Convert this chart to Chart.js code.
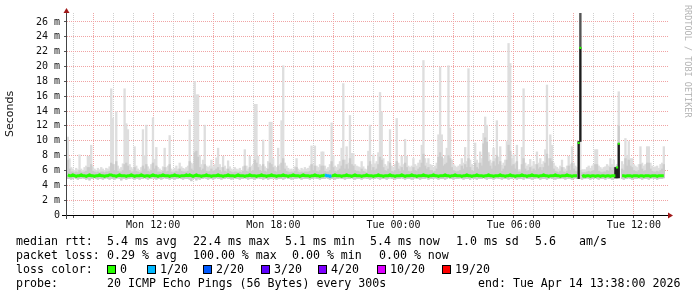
<!DOCTYPE html>
<html>
<head>
<meta charset="utf-8">
<script src="https://cdn.jsdelivr.net/npm/chart.js@4.4.1/dist/chart.umd.min.js"></script>
<style>
html, body { margin: 0; padding: 0; background: #fff; }
#wrap { position: relative; width: 697px; height: 297px; overflow: hidden; }
#chart { position: absolute; left: 0; top: 0; }
.t { position: absolute; font: 11.6px "DejaVu Sans Mono", monospace; line-height: 14px; white-space: pre; color: #000; }
.box { position: absolute; width: 9px; height: 9px; box-sizing: border-box; border: 1px solid #000; }
#brand { position: absolute; left: 693px; top: 5px; transform-origin: 0 0; transform: rotate(90deg);
  font: 8.5px "DejaVu Sans Mono", monospace; line-height: 10px; color: #b4b4b4; white-space: pre; }
</style>
</head>
<body>
<div id="wrap">
  <canvas id="chart" width="697" height="297"></canvas>
  <div id="brand">RRDTOOL / TOBI OETIKER</div>
  <div id="legend"></div>
</div>
<script>
// time axis: 5 minute steps starting Mon 07:42 (hours since Mon 00:00)
const startHour = 7.7;
const stepHours = 5 / 60;
const xMin = 7.7, xMax = 37.7;
const xTickHours = [12, 18, 24, 30, 36];
const xTickLabels = ['Mon 12:00', 'Mon 18:00', 'Tue 00:00', 'Tue 06:00', 'Tue 12:00'];
const yTickValues = [0, 2, 4, 6, 8, 10, 12, 14, 16, 18, 20, 22, 24, 26];
const yTickLabels = ['0', '2 m', '4 m', '6 m', '8 m', '10 m', '12 m', '14 m', '16 m', '18 m', '20 m', '22 m', '24 m', '26 m'];

// median rtt (ms) per step
const medianRtt = [
  5.4,5.3,5.3,5.4,5.3,5.2,5.3,5.3,5.4,5.3,5.3,5.2,5.3,5.4,5.3,5.3,5.2,5.3,5.3,5.4,5.3,5.3,5.2,5.3,
  5.3,5.4,5.4,5.3,5.3,5.2,5.3,5.4,5.3,5.3,5.3,5.2,5.3,5.3,5.4,5.3,5.2,5.3,5.3,5.3,5.4,5.3,5.2,5.3,
  5.3,5.2,5.3,5.4,5.3,5.3,5.2,5.3,5.3,5.4,5.3,5.3,5.3,5.2,5.3,5.3,5.4,5.3,5.3,5.2,5.3,5.3,5.3,5.4,
  5.3,5.4,5.3,5.2,5.3,5.4,5.3,5.3,5.2,5.3,5.3,5.4,5.3,5.3,5.2,5.3,5.3,5.3,5.4,5.3,5.3,5.2,5.3,5.3,
  5.4,5.3,5.3,5.3,5.2,5.3,5.4,5.3,5.3,5.3,5.2,5.3,5.3,5.4,5.3,5.3,5.3,5.2,5.3,5.3,5.4,5.3,5.3,5.2,
  5.3,5.3,5.4,5.3,5.3,5.2,5.3,5.3,5.3,5.4,5.3,5.3,5.2,5.3,5.3,5.4,5.3,5.3,5.3,5.2,5.3,5.4,5.3,5.3,
  5.3,5.2,5.3,5.3,5.4,5.3,5.3,5.2,5.3,5.3,5.4,5.3,5.3,5.2,5.3,5.3,5.4,5.3,5.3,5.3,5.2,5.3,5.3,5.4,
  5.3,5.3,5.2,5.3,5.4,5.3,5.3,5.3,5.2,5.3,5.3,5.4,5.3,5.3,5.3,5.2,5.3,5.3,5.4,5.3,5.3,5.2,5.3,5.3,
  5.3,5.4,5.3,5.3,5.2,5.3,5.3,5.3,5.4,5.3,5.2,5.3,5.3,5.3,5.4,5.3,5.3,5.2,5.3,5.3,5.3,5.4,5.3,5.3,
  5.2,5.3,5.3,5.4,5.3,5.3,5.2,5.3,5.3,5.3,5.4,5.3,5.3,5.2,5.3,5.3,5.4,5.3,5.3,5.3,5.2,5.3,5.3,5.4,
  5.3,5.3,5.2,5.3,5.3,5.4,5.3,5.3,5.3,5.2,5.3,5.3,5.4,5.3,5.3,5.2,5.3,5.3,5.3,5.4,5.3,5.3,5.2,5.3,
  5.3,5.4,5.3,5.3,5.2,5.3,5.3,5.3,5.4,5.3,5.3,5.2,5.3,5.3,5.4,5.3,5.3,5.3,5.2,5.3,5.3,5.4,5.3,5.3,
  5.2,5.3,5.3,5.3,5.4,5.3,5.3,5.2,5.3,5.3,5.3,5.4,5.3,5.3,5.2,5.3,5.3,5.3,9.7,22.5,5.2,5.3,5.2,5.3,
  5.3,5.2,5.3,5.3,5.2,5.3,5.3,5.2,5.3,5.3,5.2,5.3,5.3,5.2,5.3,5.3,5.3,6.4,9.6,null,5.3,5.3,5.2,5.3,
  5.3,5.3,5.2,5.3,5.3,5.3,5.2,5.3,5.3,5.2,5.3,5.3,5.3,5.2,5.3,5.3,5.3,5.2,5.3,5.3,5.3,5.3,null,null
];

// smoke: lowest ping, upper quartile-ish and highest ping (ms) per step
const smokeMin = [
  4.9,4.9,4.8,4.9,5.0,4.9,4.8,4.9,4.9,5.0,4.9,4.8,4.9,4.7,4.9,4.9,5.0,4.9,4.8,4.9,4.9,4.8,4.9,5.0,
  4.9,4.8,4.9,4.9,4.8,4.9,5.0,4.9,4.7,4.9,4.9,4.8,4.9,4.9,5.0,4.9,4.8,4.9,4.9,4.8,4.9,4.9,5.0,4.9,
  4.8,4.9,4.9,5.0,4.9,4.8,4.9,4.9,4.8,4.9,5.0,4.9,4.9,4.8,4.9,4.9,4.8,4.9,4.9,5.0,4.9,4.8,4.9,4.9,
  4.9,4.8,4.6,4.9,4.9,4.7,4.9,4.8,4.9,4.9,5.0,4.9,4.8,4.9,4.9,4.8,4.9,5.0,4.9,4.9,4.8,4.9,4.9,5.0,
  4.9,4.9,4.8,4.9,5.0,4.9,4.9,4.8,4.9,4.9,5.0,4.9,4.8,4.9,4.9,4.9,4.8,4.9,5.0,4.9,4.9,4.8,4.9,4.9,
  4.8,4.9,4.9,5.0,4.9,4.8,4.9,4.9,4.9,4.8,4.9,5.0,4.9,4.9,4.8,4.9,4.9,4.9,5.0,4.9,4.8,4.9,4.9,4.9,
  4.9,4.8,4.9,4.9,5.0,4.9,4.9,4.8,4.9,4.9,4.9,5.0,4.9,4.8,4.9,4.9,4.8,4.9,4.9,5.0,4.9,4.9,4.8,4.9,
  4.9,4.9,5.0,4.9,4.8,4.9,4.9,4.9,4.8,4.9,5.0,4.9,4.9,4.8,4.9,4.9,4.9,5.0,4.9,4.8,4.9,4.9,4.9,4.8,
  4.9,5.0,4.9,4.9,4.8,4.9,4.9,4.9,5.0,4.9,4.8,4.9,4.9,4.9,4.8,4.9,5.0,4.9,4.9,4.8,4.9,4.9,4.9,5.0,
  4.8,4.9,4.9,4.9,5.0,4.9,4.8,4.9,4.9,4.9,4.8,4.9,5.0,4.9,4.9,4.8,4.9,4.9,4.9,5.0,4.9,4.8,4.9,4.9,
  4.9,4.8,5.0,4.9,4.9,4.8,4.9,4.9,4.9,5.0,4.9,4.8,4.9,4.9,4.9,4.8,4.9,5.0,4.9,4.9,4.8,4.9,4.9,4.9,
  4.8,4.9,4.9,5.0,4.9,4.8,4.9,4.9,4.9,4.8,5.0,4.9,4.9,4.9,4.8,4.9,4.9,5.0,4.9,4.8,4.9,4.9,4.9,4.8,
  4.9,5.0,4.9,4.9,4.8,4.9,4.9,4.9,5.0,4.9,4.8,4.9,4.9,4.9,4.8,4.9,5.0,4.9,4.9,4.9,4.8,4.9,4.9,5.0,
  4.9,4.8,4.9,4.9,5.0,4.9,4.8,4.9,4.9,4.9,4.8,5.0,4.9,4.9,4.8,4.9,4.9,4.9,5.0,null,4.9,4.8,4.9,4.9,
  5.0,4.9,4.8,4.9,4.9,4.9,5.0,4.9,4.8,4.9,4.9,4.9,4.8,4.9,5.0,4.9,4.9,4.8,4.9,4.9,4.9,5.0,null,null
];
const smokeMid = [
  7.4,6.2,5.8,5.8,5.7,5.8,5.7,6.0,5.8,5.7,5.8,5.9,6.4,6.4,6.8,5.9,5.8,5.7,5.8,5.7,5.8,5.8,5.7,5.8,
  5.8,5.9,7.0,6.8,6.0,7.2,5.9,5.8,5.8,6.0,6.8,7.0,6.6,6.0,5.8,5.8,6.4,5.9,5.8,5.7,5.8,6.6,6.2,6.8,
  5.9,5.8,6.0,7.0,6.2,6.6,5.8,5.8,5.7,5.9,6.4,5.8,5.9,6.8,5.8,5.7,5.8,5.9,5.8,6.2,5.9,5.8,5.8,5.8,
  5.9,7.2,6.2,6.0,8.4,8.6,7.8,6.4,6.0,6.2,6.8,5.9,5.8,5.9,6.2,5.9,6.0,6.2,6.4,6.0,5.8,6.4,5.9,5.8,
  6.2,5.9,5.8,5.7,5.8,5.8,5.7,5.8,5.7,5.9,6.6,5.9,5.8,6.4,5.9,6.0,7.4,7.0,6.4,6.0,5.9,6.8,5.9,5.8,
  6.2,7.0,6.8,6.4,5.9,5.8,6.6,6.0,7.0,7.6,6.2,5.9,5.8,5.7,5.8,5.7,5.9,6.4,5.8,5.7,5.8,5.7,5.8,5.8,
  5.8,5.9,6.8,6.0,6.6,5.9,5.8,6.0,6.6,6.6,5.9,5.8,5.8,6.0,7.2,6.4,5.9,5.8,6.0,6.2,6.6,7.4,6.2,6.8,
  6.2,7.6,6.8,6.6,6.0,5.9,5.9,5.8,6.2,5.9,5.8,5.7,6.6,7.2,6.0,6.4,6.0,6.2,6.8,7.8,7.4,6.4,6.0,5.9,
  6.2,7.0,5.9,5.8,6.0,7.2,6.2,5.9,6.4,6.0,7.0,6.4,5.9,5.8,5.9,6.4,6.0,5.9,6.2,6.4,7.0,8.2,6.6,6.2,
  6.4,6.0,6.0,5.8,5.9,6.2,7.8,8.4,7.8,6.6,6.8,7.0,8.0,7.6,6.4,6.0,5.9,5.8,5.9,6.0,6.6,6.2,6.8,6.4,
  7.6,6.4,6.0,5.9,7.0,6.4,6.2,7.0,6.6,9.6,10.4,9.8,7.2,6.6,6.2,7.2,6.6,8.0,6.8,7.2,5.9,6.2,6.6,7.4,
  9.4,8.6,6.6,6.8,6.2,7.2,5.8,5.8,6.8,7.6,6.2,5.9,6.0,6.4,5.9,6.2,6.0,6.8,6.2,6.4,6.0,6.4,7.0,8.2,
  6.6,7.6,7.2,6.2,5.9,5.8,5.7,5.9,6.4,5.8,5.7,5.9,6.6,6.0,7.0,6.2,5.9,5.8,6.0,6.0,5.7,5.7,5.7,5.8,
  5.9,5.8,5.9,6.0,6.8,6.8,5.9,5.8,5.7,5.8,5.8,6.0,5.9,6.4,6.0,6.4,5.9,6.0,12.0,null,6.2,6.0,7.6,6.6,
  7.4,6.6,6.4,6.0,5.9,5.8,6.0,6.8,6.2,5.9,6.0,7.0,7.0,6.2,5.9,5.8,5.8,5.9,5.8,6.0,6.2,6.8,null,null
];
const smokeMax = [
  10.5,7.6,6.4,6.2,6.0,6.3,6.1,8.1,6.2,6.0,6.4,6.6,7.9,7.9,9.4,6.5,6.2,6.0,6.3,6.1,6.4,6.2,6.0,6.3,
  6.2,6.5,17.0,13.0,6.8,13.9,6.6,6.2,6.4,6.9,17.0,12.3,11.5,6.8,6.4,6.2,9.2,6.6,6.2,6.0,6.4,11.5,8.0,12.1,
  6.5,6.2,6.8,13.1,7.5,9.1,6.4,6.2,6.0,6.5,9.0,6.4,6.6,10.7,6.2,6.0,6.3,6.6,6.2,7.0,6.5,6.3,6.2,6.4,
  6.6,12.8,7.0,6.8,18.0,16.2,16.2,8.0,6.8,7.4,12.1,6.6,6.4,6.6,7.4,6.5,6.8,7.7,9.0,6.8,6.4,7.9,6.6,6.2,
  7.3,6.5,6.2,6.0,6.4,6.2,6.1,6.3,6.0,6.5,8.8,6.6,6.2,7.9,6.6,6.8,14.9,14.9,7.9,6.8,6.6,10.1,6.5,6.3,
  7.2,12.5,12.5,7.6,6.6,6.4,9.0,6.8,12.7,20.1,7.0,6.6,6.3,6.1,6.2,6.0,6.5,7.6,6.2,6.0,6.3,6.1,6.4,6.2,
  6.3,6.6,9.3,6.8,9.3,6.6,6.4,6.8,8.5,8.5,6.6,6.2,6.4,6.8,12.4,8.0,6.6,6.4,6.8,7.2,9.0,17.7,7.4,9.2,
  7.0,13.4,8.3,8.3,6.8,6.6,6.5,6.4,7.2,6.5,6.2,6.1,8.6,12.1,6.8,8.1,6.9,7.2,8.4,16.5,13.9,7.6,6.8,6.6,
  7.2,11.5,6.6,6.4,6.8,13.0,7.0,6.6,7.9,6.8,10.2,7.9,6.6,6.4,6.6,7.6,6.8,6.6,7.0,7.4,9.4,20.8,7.6,7.0,
  7.6,6.8,6.7,6.4,6.6,7.0,10.8,19.9,10.8,7.6,8.0,9.0,20.1,11.7,7.4,6.8,6.6,6.4,6.6,6.8,7.6,7.0,9.1,7.2,
  19.7,7.4,6.8,6.5,9.7,7.4,7.0,8.5,7.6,11.0,13.2,12.1,8.4,7.4,7.0,9.0,7.6,12.7,7.8,9.2,6.7,7.0,7.4,9.9,
  23.1,20.4,7.6,8.1,7.0,9.4,6.1,6.1,9.1,17.0,7.0,6.6,6.8,7.5,6.6,7.2,6.8,8.5,7.0,7.6,6.8,7.2,8.8,17.5,
  7.6,10.8,9.4,7.0,6.6,6.4,6.2,6.6,7.4,6.4,6.2,6.6,7.9,6.8,9.2,7.0,6.6,6.4,10.0,29.0,6.1,6.1,6.1,6.4,
  6.6,6.3,6.6,6.8,8.8,8.8,6.6,6.4,6.2,6.4,6.5,6.8,6.6,7.6,6.8,7.4,6.6,6.8,16.6,null,7.2,6.8,10.3,8.0,
  9.9,7.6,7.6,6.8,6.6,6.4,6.8,9.2,7.0,6.6,6.8,9.2,9.2,7.0,6.6,6.4,6.5,6.6,6.3,6.8,7.0,9.2,null,null
];

// steps where nearly all pings were slow (dark smoke)
const darkIdx = [306, 307, 328, 329, 330];
const darkLo = [4.9, 9.9, 5.0, 5.0, 5.0];
const darkHi = [9.9, 22.5, 6.4, 6.4, 9.6];
const tailIdx = [307];
const tailLo = [22.5];
const tailHi = [29.0];

// packet loss (pings lost out of 20)
const lossIdx = [155, 157, 331];
const lossCount = [1, 1, 20];
const lossSteps = [0, 1, 2, 3, 4, 10, 19];
const lossColors = ['#26ff00', '#00b8ff', '#0059ff', '#5e00ff', '#7e00ff', '#dd00ff', '#ff0000'];

const stats = [
  ['median rtt:', 16], ['5.4 ms avg', 107], ['22.4 ms max', 193], ['5.1 ms min', 285],
  ['5.4 ms now', 370], ['1.0 ms sd', 456], ['5.6', 535], ['am/s', 579]
];
const lossStats = [
  ['packet loss:', 16], ['0.29 % avg', 107], ['100.00 % max', 193], ['0.00 % min', 292], ['0.00 % now', 379]
];
const lossLegend = [['0', 107], ['1/20', 147], ['2/20', 203], ['3/20', 261], ['4/20', 318], ['10/20', 377], ['19/20', 442]];
const probeText = [['probe:', 16], ['20 ICMP Echo Pings (56 Bytes) every 300s', 107], ['end: Tue Apr 14 13:38:00 2026', 478]];

// ---- legend text
const legend = document.getElementById('legend');
function addText(txt, x, y) {
  const d = document.createElement('div');
  d.className = 't';
  d.textContent = txt;
  d.style.left = x + 'px';
  d.style.top = y + 'px';
  legend.appendChild(d);
}
stats.forEach(s => addText(s[0], s[1], 234));
lossStats.forEach(s => addText(s[0], s[1], 248));
addText('loss color:', 16, 262);
lossLegend.forEach((s, k) => {
  const b = document.createElement('div');
  b.className = 'box';
  b.style.left = s[1] + 'px';
  b.style.top = '265px';
  b.style.background = lossColors[k];
  legend.appendChild(b);
  addText(s[0], s[1] + 13, 262);
});
probeText.forEach(s => addText(s[0], s[1], 276));

// ---- chart
const xs = medianRtt.map((_, i) => startHour + (i + 0.5) * stepHours);
const lossAt = {};
lossIdx.forEach((i, k) => { lossAt[i] = lossCount[k]; });
function lossColor(n) {
  let c = lossColors[0];
  lossSteps.forEach((s, k) => { if (n >= s) c = lossColors[k]; });
  return c;
}

const lineData = medianRtt.map((v, i) => ({ x: xs[i], y: v }));
const lightData = [], midData = [];
smokeMax.forEach((v, i) => {
  if (v == null) return;
  lightData.push({ x: xs[i], y: [smokeMin[i], v] });
  midData.push({ x: xs[i], y: [smokeMin[i], smokeMid[i]] });
});
const darkData = darkIdx.map((i, k) => ({ x: xs[i], y: [darkLo[k], darkHi[k]] }));
const tailData = tailIdx.map((i, k) => ({ x: xs[i], y: [tailLo[k], tailHi[k]] }));

const gridGray = '#d0d0d0';
const gridRed = '#f0a4a4';

const axesPlugin = {
  id: 'axes',
  afterDatasetsDraw(chart) {
    const c = chart.ctx;
    const a = chart.chartArea;
    c.save();
    c.fillStyle = '#000';
    c.fillRect(62, a.bottom, a.right - 62, 1);
    c.fillStyle = '#444';
    c.fillRect(a.left - 1, a.top - 1, 1, a.bottom - a.top + 5);
    c.fillStyle = '#a01818';
    c.beginPath();
    c.moveTo(a.right + 5, a.bottom + 0.5);
    c.lineTo(a.right, a.bottom - 2.5);
    c.lineTo(a.right, a.bottom + 3.5);
    c.closePath();
    c.fill();
    c.beginPath();
    c.moveTo(a.left - 0.5, a.top - 5);
    c.lineTo(a.left - 3.5, a.top);
    c.lineTo(a.left + 2.5, a.top);
    c.closePath();
    c.fill();
    c.restore();
  }
};

new Chart(document.getElementById('chart'), {
  type: 'bar',
  data: {
    datasets: [
      {
        type: 'line', data: lineData, order: 0,
        borderWidth: 3, tension: 0, spanGaps: false, borderCapStyle: 'butt',
        borderColor: lossColors[0],
        pointStyle: 'rect', pointBorderWidth: 0,
        pointBackgroundColor: lossColors[0],
        pointRadius: ctx => (medianRtt[ctx.dataIndex] > 6 ? 1.5 : 0),
        segment: {
          borderColor: ctx => {
            if (Math.abs(ctx.p1.parsed.y - ctx.p0.parsed.y) > 1) return 'rgba(0,0,0,0)';
            return lossColor(lossAt[ctx.p1DataIndex] || lossAt[ctx.p0DataIndex] || 0);
          }
        }
      },
      { data: tailData, order: 1, backgroundColor: '#555555' },
      { data: darkData, order: 2, backgroundColor: '#1e1e1e' },
      { data: midData, order: 3, backgroundColor: '#cbcbcb' },
      { data: lightData, order: 4, backgroundColor: '#dedede' }
    ]
  },
  options: {
    responsive: false,
    animation: false,
    events: [],
    devicePixelRatio: 1,
    layout: { padding: { left: 0, top: 13, right: 29, bottom: 62 } },
    datasets: { bar: { grouped: false, barPercentage: 1, categoryPercentage: 1, borderWidth: 0 } },
    plugins: { legend: { display: false }, tooltip: { enabled: false } },
    scales: {
      x: {
        type: 'linear', min: xMin, max: xMax, offset: false,
        afterFit: s => { s.height = 20; },
        afterBuildTicks: s => {
          const t = [];
          for (let h = Math.ceil(xMin); h <= Math.floor(xMax); h++) t.push({ value: h });
          s.ticks = t;
        },
        border: { display: false, dash: [1, 1] },
        grid: {
          offset: false,
          color: ctx => (ctx.tick && ctx.tick.value % 3 === 0 ? gridRed : gridGray),
          tickColor: '#555', tickLength: 3, tickBorderDash: []
        },
        ticks: {
          autoSkip: false, maxRotation: 0, minRotation: 0, padding: 1,
          color: '#111', font: { family: 'DejaVu Sans Mono', size: 10 },
          callback: v => { const k = xTickHours.indexOf(v); return k >= 0 ? xTickLabels[k] : ''; }
        }
      },
      y: {
        type: 'linear', min: 0, max: 27.2,
        afterFit: s => { s.width = 67; },
        afterBuildTicks: s => {
          const t = [];
          for (let v = 0; v <= 27; v++) t.push({ value: v });
          s.ticks = t;
        },
        border: { display: false, dash: [1, 1] },
        grid: {
          color: ctx => (ctx.tick && ctx.tick.value % 2 === 0 ? gridRed : gridGray),
          tickColor: ctx => (ctx.tick && ctx.tick.value % 2 === 0 ? '#555' : 'rgba(0,0,0,0)'),
          tickLength: 3, tickBorderDash: []
        },
        ticks: {
          padding: 4, color: '#111', font: { family: 'DejaVu Sans Mono', size: 10 },
          callback: v => { const k = yTickValues.indexOf(v); return k >= 0 ? yTickLabels[k] : ''; }
        },
        title: {
          display: true, text: 'Seconds', color: '#111',
          font: { family: 'DejaVu Sans', size: 11 }, padding: { top: 4, bottom: 0 }
        }
      }
    }
  },
  plugins: [axesPlugin]
});
</script>
</body>
</html>
